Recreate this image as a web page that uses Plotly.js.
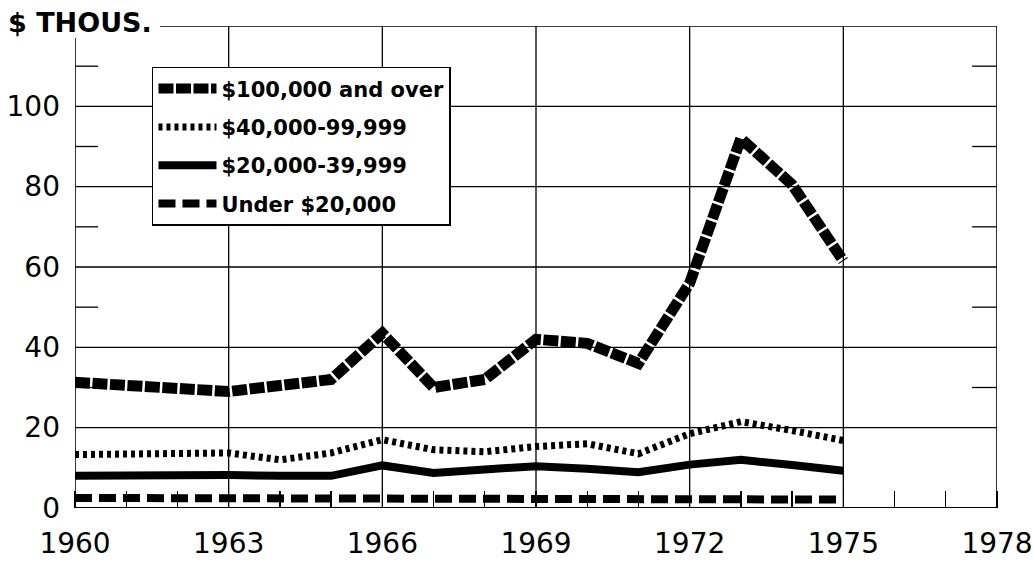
<!DOCTYPE html>
<html>
<head>
<meta charset="utf-8">
<script src="https://cdn.plot.ly/plotly-3.0.1.min.js"></script>
<style>
  html, body { margin: 0; padding: 0; background: #ffffff; }
  #chart { width: 1033px; height: 564px; }
</style>
</head>
<body>
<div id="chart"></div>
<script>
// ---- data ----
const years = [1960, 1961, 1962, 1963, 1964, 1965, 1966, 1967, 1968, 1969, 1970, 1971, 1972, 1973, 1974, 1975];
const seriesNames = ["$100,000 and over", "$40,000-99,999", "$20,000-39,999", "Under $20,000"];
const over100k = [31.3, 30.5, 29.8, 29.0, 30.5, 32.0, 43.5, 30.0, 32.0, 42.0, 41.0, 36.0, 56.0, 92.0, 80.5, 61.5];
const from40k  = [13.3, 13.5, 13.6, 13.7, 12.0, 13.7, 17.0, 14.5, 14.0, 15.3, 16.0, 13.5, 18.5, 21.5, 19.3, 16.8];
const from20k  = [8.0, 8.2, 8.3, 8.2, 8.0, 8.0, 10.6, 8.7, 9.6, 10.4, 9.8, 8.9, 10.8, 12.0, 10.7, 9.3];
const under20k = [2.5, 2.5, 2.5, 2.5, 2.5, 2.4, 2.4, 2.4, 2.4, 2.3, 2.3, 2.3, 2.2, 2.2, 2.2, 2.1];

const xTickVals = [1960, 1963, 1966, 1969, 1972, 1975, 1978];
const xTickText = ["1960", "1963", "1966", "1969", "1972", "1975", "1978"];
const yTickVals = [0, 20, 40, 60, 80, 100];
const yTickText = ["0", "20", "40", "60", "80", "100"];
const gridX = [1963, 1966, 1969, 1972, 1975];
const gridY = [20, 40, 60, 80, 100];
const minorY = [30, 50, 70, 90, 110];
const X_MIN = 1960, X_MAX = 1978, Y_MIN = 0, Y_MAX = 120;
const unitTitle = "$ THOUS.";

// ---- traces ----
const traces = [
  { y: over100k, name: seriesNames[0], line: { color: "#000", width: 11, dash: "15px,2.5px" }, legendgroup: "a" },
  { y: from40k,  name: seriesNames[1], line: { color: "#000", width: 7, dash: "4px,4px" }, legendgroup: "b" },
  { y: from20k,  name: seriesNames[2], line: { color: "#000", width: 8 }, legendgroup: "c" },
  { y: under20k, name: seriesNames[3], line: { color: "#000", width: 8, dash: "17px,7px" }, legendgroup: "d" }
].map(t => Object.assign({ x: years, type: "scatter", mode: "lines", hoverinfo: "skip" }, t));

// ---- frame, grid and tick shapes ----
const shapes = [];
const thin = { color: "#000", width: 1.3 };
gridX.forEach(v => shapes.push({ type: "line", layer: "below", xref: "x", yref: "y", x0: v, x1: v, y0: Y_MIN, y1: Y_MAX, line: thin }));
gridY.forEach(v => shapes.push({ type: "line", layer: "below", xref: "x", yref: "y", x0: X_MIN, x1: X_MAX, y0: v, y1: v, line: thin }));
minorY.forEach(v => {
  shapes.push({ type: "line", layer: "below", xref: "paper", yref: "y", x0: 0, x1: 0.025, y0: v, y1: v, line: thin });
  shapes.push({ type: "line", layer: "below", xref: "paper", yref: "y", x0: 0.973, x1: 1, y0: v, y1: v, line: thin });
});
// frame: left axis stops below the unit label, top border starts after it
shapes.push({ type: "line", layer: "below", xref: "x", yref: "y", x0: X_MIN, x1: X_MIN, y0: Y_MIN, y1: 117, line: { color: "#000", width: 1.6 } });
shapes.push({ type: "line", layer: "below", xref: "x", yref: "y", x0: 1961.66, x1: X_MAX, y0: Y_MAX, y1: Y_MAX, line: { color: "#000", width: 1.6 } });
shapes.push({ type: "line", layer: "below", xref: "x", yref: "y", x0: X_MAX, x1: X_MAX, y0: Y_MIN, y1: Y_MAX, line: { color: "#000", width: 1.6 } });
shapes.push({ type: "line", layer: "below", xref: "x", yref: "y", x0: X_MIN, x1: X_MAX, y0: Y_MIN, y1: Y_MIN, line: { color: "#000", width: 1.8 } });

const tickFont = { family: "DejaVu Sans, Liberation Sans, sans-serif", size: 28, color: "#000" };

const layout = {
  width: 1033, height: 564,
  paper_bgcolor: "#fff", plot_bgcolor: "#fff",
  margin: { l: 75, r: 36, t: 26, b: 56, pad: 0 },
  showlegend: true,
  title: {
    text: "<b>" + unitTitle + "</b>",
    font: { family: "DejaVu Sans, Liberation Sans, sans-serif", size: 27, color: "#000" },
    x: 8 / 1033, xanchor: "left", xref: "container",
    y: 1 - 23 / 564, yanchor: "middle", yref: "container"
  },
  xaxis: {
    range: [X_MIN, X_MAX], tickmode: "array", tickvals: xTickVals, ticktext: xTickText,
    showgrid: false, zeroline: false, showline: false, ticks: "", tickfont: tickFont,
    ticklabelstandoff: 16,
    minor: { dtick: 1, tick0: 1960, ticks: "inside", ticklen: 17, tickcolor: "#000", tickwidth: 1.3, showgrid: false }
  },
  yaxis: {
    range: [Y_MIN, Y_MAX], tickmode: "array", tickvals: yTickVals, ticktext: yTickText,
    showgrid: false, zeroline: false, showline: false, ticks: "", tickfont: tickFont,
    ticklabelstandoff: 14
  },
  legend: {
    x: 0.0835, y: 0.915, xanchor: "left", yanchor: "top",
    bgcolor: "#fff", bordercolor: "#000", borderwidth: 1.5,
    font: { family: "DejaVu Sans, Liberation Sans, sans-serif", size: 21, color: "#000", weight: "bold" },
    traceorder: "grouped", tracegroupgap: 8, itemwidth: 58
  },
  shapes: shapes
};

Plotly.newPlot("chart", traces, layout, { displayModeBar: false, staticPlot: true });
</script>
</body>
</html>
